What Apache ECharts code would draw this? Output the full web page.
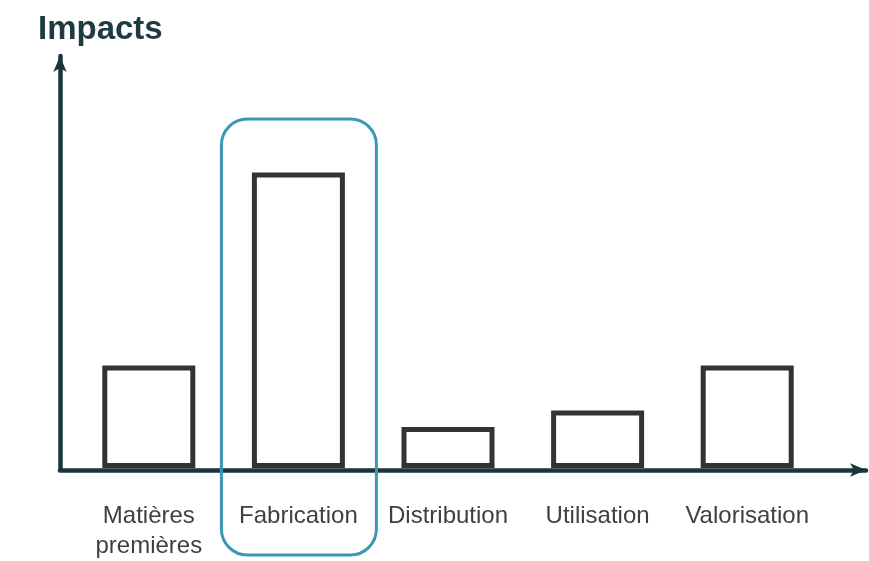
<!DOCTYPE html>
<html><head><meta charset="utf-8">
<script src="https://cdn.jsdelivr.net/npm/echarts@6/dist/echarts.min.js"></script>
<style>html,body{margin:0;padding:0;background:#fff}#c{width:869px;height:561px}</style>
</head><body><div id="c"></div>
<script>
const categories = ['Matières\npremières', 'Fabrication', 'Distribution', 'Utilisation', 'Valorisation'];
const impacts = [25, 72, 10, 14, 25];
const highlighted = 'Fabrication';

const axisColor = '#17363d';
const chart = echarts.init(document.getElementById('c'));
chart.setOption({
  animation: false,
  backgroundColor: '#fff',
  title: {
    text: 'Impacts', left: 33, top: 8,
    textStyle: {fontFamily: 'Liberation Sans, Arial', fontWeight: 'bold', fontSize: 33, color: '#1c3a40'}
  },
  grid: [
    {left: 74, right: 47, top: 57.5, bottom: 91},
    {left: 60, right: 3, top: 56, bottom: 91}
  ],
  xAxis: [
    {type: 'category', gridIndex: 0, data: categories,
     axisLine: {show: false}, axisTick: {show: false},
     axisLabel: {margin: 33, fontFamily: 'Liberation Sans, Arial', fontSize: 24, color: '#404040', lineHeight: 30, interval: 0}},
    {type: 'value', gridIndex: 1, min: 0, max: 1, axisLabel: {show: false}, axisTick: {show: false}, splitLine: {show: false},
     axisLine: {show: true, symbol: ['none', 'arrow'], symbolSize: [10, 16], lineStyle: {color: axisColor, width: 4.5}}}
  ],
  yAxis: [
    {type: 'value', gridIndex: 0, min: 0, max: 100, show: false},
    {type: 'value', gridIndex: 1, min: 0, max: 1, axisLabel: {show: false}, axisTick: {show: false}, splitLine: {show: false},
     axisLine: {show: true, symbol: ['none', 'arrow'], symbolSize: [10, 16], lineStyle: {color: axisColor, width: 4.5}}}
  ],
  series: [{
    type: 'bar', xAxisIndex: 0, yAxisIndex: 0, data: impacts, barWidth: 93,
    itemStyle: {color: '#fff', borderColor: '#333333', borderWidth: 5}, z: 1
  }]
});
const idx = categories.indexOf(highlighted);
const cx = chart.convertToPixel({xAxisIndex: 0}, idx);
chart.setOption({
  graphic: [{
    type: 'rect', z: 100,
    shape: {x: cx - 77, y: 119, width: 155, height: 436, r: 26},
    style: {fill: 'none', stroke: '#3a98b6', lineWidth: 3}
  }]
});
</script></body></html>
